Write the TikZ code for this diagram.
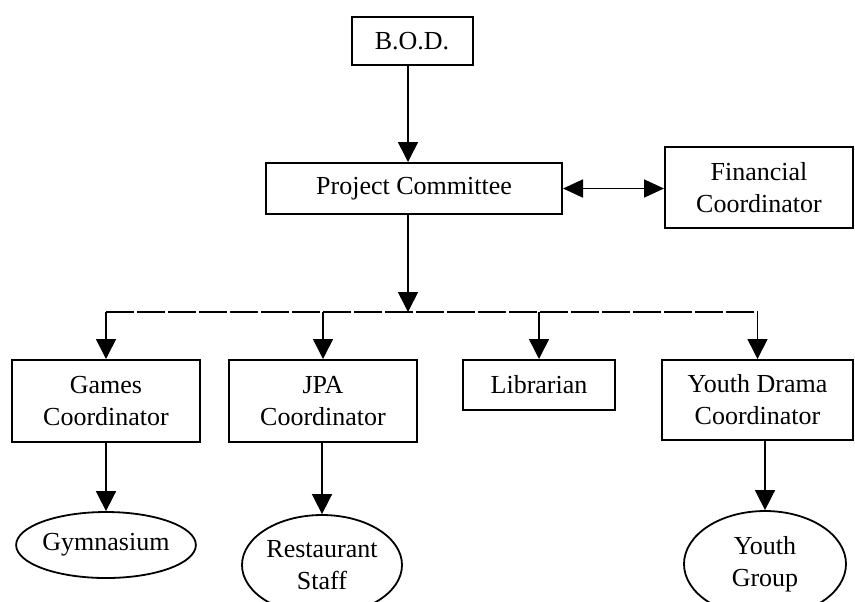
\documentclass[tikz,border=0pt]{standalone}
\usepackage{fontspec}
\setmainfont{Liberation Serif}
\usetikzlibrary{shapes.geometric}
\usetikzlibrary{arrows.meta}
\tikzset{box/.style={rectangle, draw, line width=1pt, align=center, inner sep=0pt, font=\fontsize{13}{16}\selectfont}}
\tikzset{oval/.style={ellipse, draw, line width=0.9pt, align=center, inner sep=0pt, font=\fontsize{13}{16}\selectfont}}
\tikzset{arr/.style={line width=0.8pt, -{Triangle[length=10pt,width=10pt]}}}
\tikzset{busline/.style={line width=0.9pt, dash pattern=on 14pt off 1.5pt}}

\begin{document}
\begin{tikzpicture}[x=0.5pt,y=-0.5pt]
  \useasboundingbox (0,0) rectangle (855,601);
  \foreach \x/\y/\w/\h/\lab/\txt in {
    412/41/60.5/24/bod/{B.O.D.},
    414/188.5/148/25.5/pc/{Project Committee},
    759/187.5/94/40.5/fc/{Financial\\Coordinator},
    106/401/94/41/games/{Games\\Coordinator},
    323/401/94/41/jpa/{JPA\\Coordinator},
    539/385/76/25/lib/{Librarian},
    757.5/400/95.5/40/yd/{Youth Drama\\Coordinator}%
  } {
    \node[box, minimum width=\w pt, minimum height=\h pt] (\lab) at (\x, \y) {\txt};
  }
  \foreach \x/\y/\w/\h/\lab/\txt in {
    106/545/80/33/gym/{Gymnasium},
    322/565/80/50/staff/{Restaurant\\Staff},
    765/564/81/53/yg/{Youth\\Group}%
  } {
    \node[oval, minimum width=\w pt, minimum height=\h pt] (\lab) at (\x, \y) {\txt};
  }
  \coordinate (bus) at (408,312);
  \draw[arr] (bod.south -| 408,0) -- (pc.north -| 408,0);
  \draw[line width=0.9pt, {Triangle[length=10pt,width=9pt]}-{Triangle[length=10pt,width=9pt]}] (pc.east) -- (pc.east -| fc.west);
  \draw[arr] (pc.south -| bus) -- (bus);
  \draw[busline] (games |- bus) -- (yd |- bus);
  \foreach \v in {games, jpa, lib, yd}{
    \draw[arr] (\v |- bus) -- (\v);
  }
  \draw[arr] (games) -- (gym);
  \draw[arr] (jpa.south -| staff) -- (staff);
  \draw[arr] (yg |- yd.south) -- (yg);
\end{tikzpicture}
\end{document}
